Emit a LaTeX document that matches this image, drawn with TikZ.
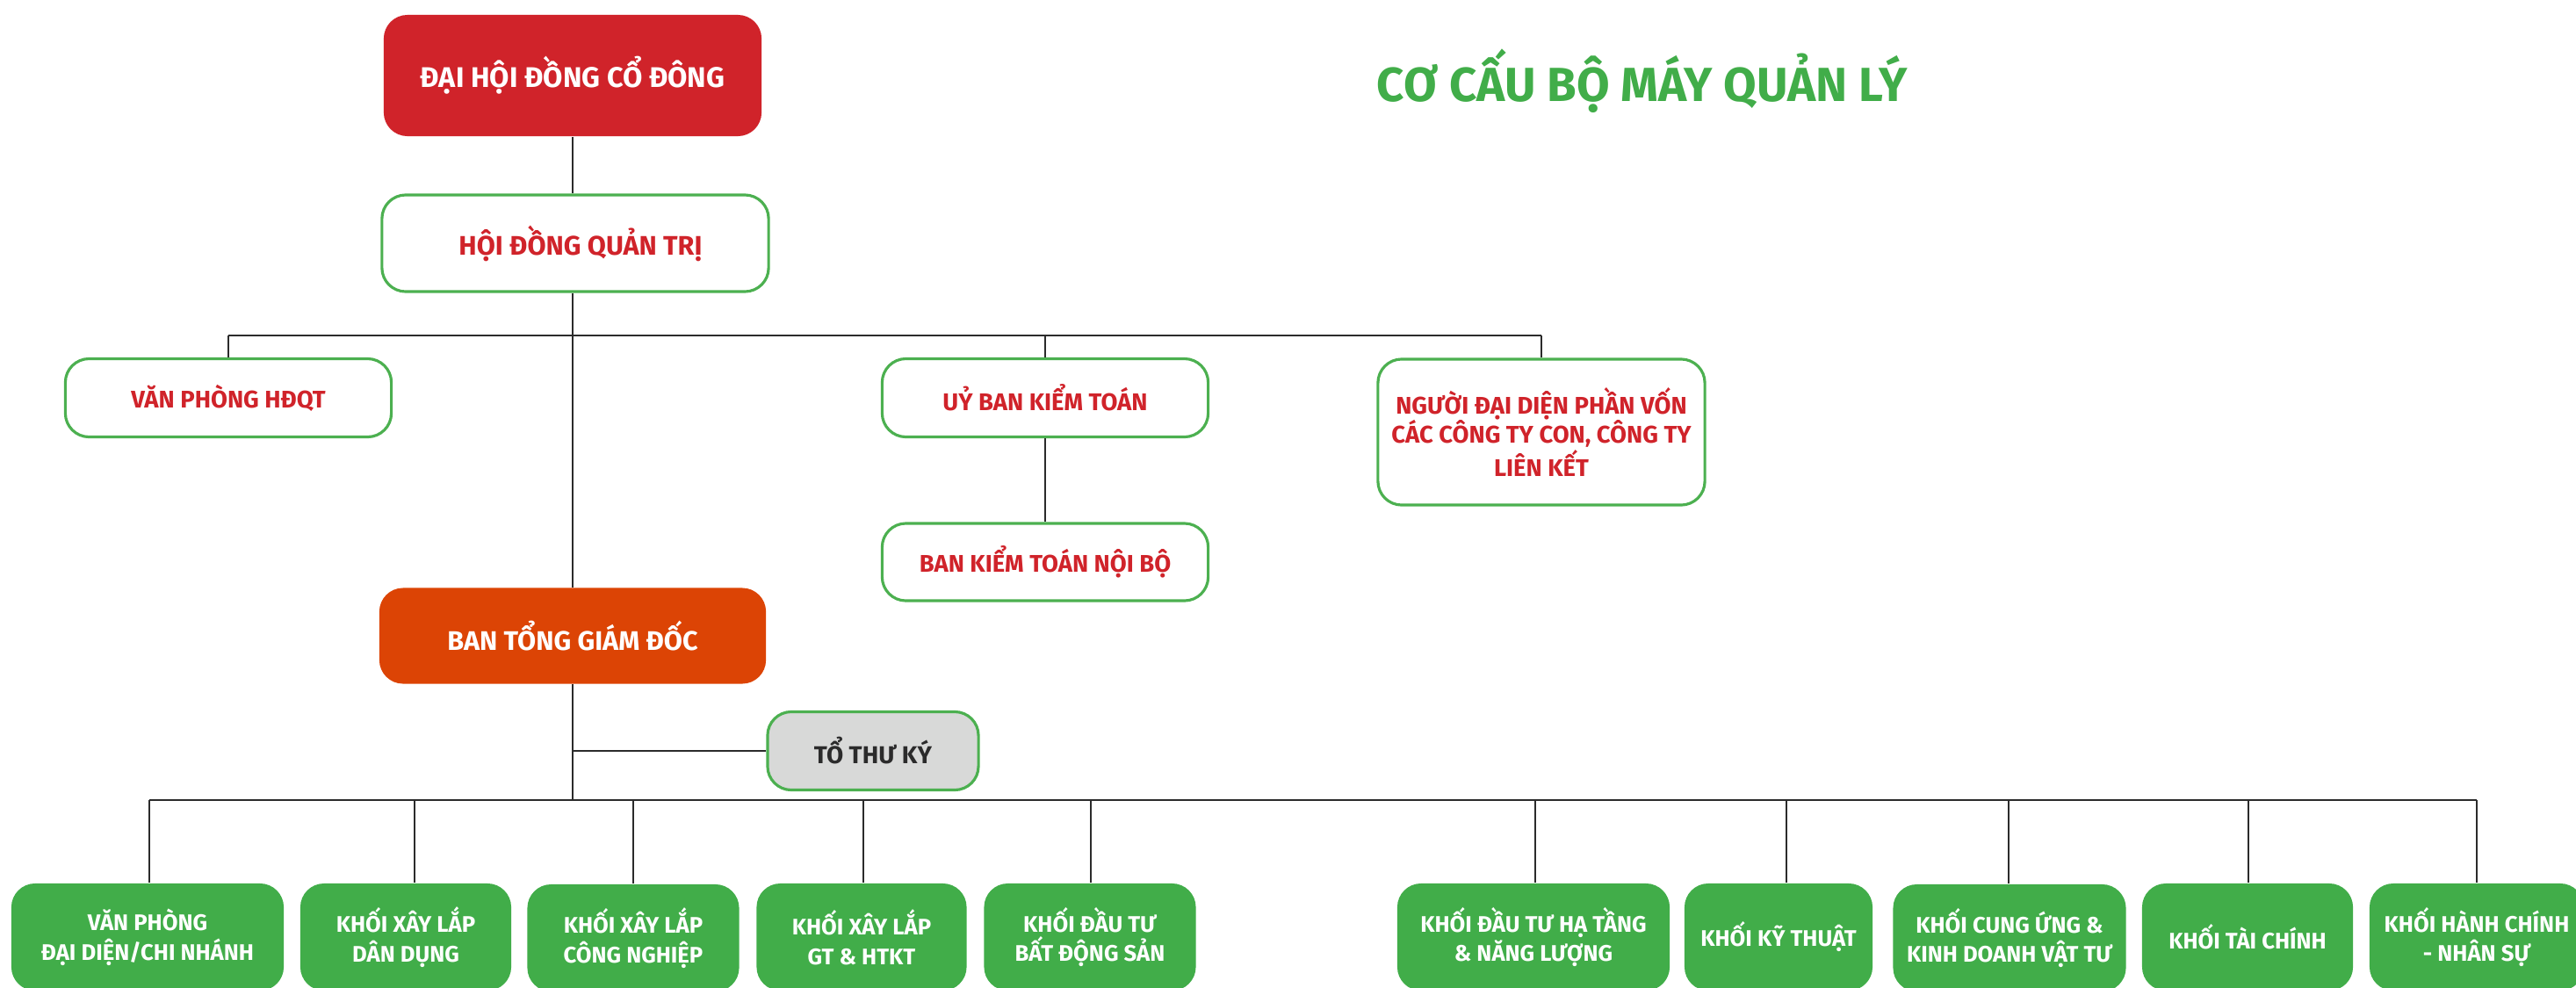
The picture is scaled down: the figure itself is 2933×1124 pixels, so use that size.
\documentclass[tikz,border=0pt]{standalone}
\usepackage{fontspec}
\setmainfont{Fira Sans}
\definecolor{hdred}{HTML}{D0232A}
\definecolor{hdorange}{HTML}{DC4405}
\definecolor{hdgreen}{HTML}{41AD49}
\definecolor{hdline}{HTML}{4CB050}
\definecolor{hdgrey}{HTML}{D8D9D8}
\definecolor{hddark}{HTML}{2B2B2B}
\begin{document}
\begin{tikzpicture}[x=0.01cm, y=-0.01cm,
		box/.style={rounded corners=0.27cm, inner sep=0pt, align=center, font=\bfseries\fontsize{9.2}{10}\selectfont},
		redbox/.style={box, fill=hdred, text=white},
		orgbox/.style={box, fill=hdorange, text=white, font=\bfseries\fontsize{8.7}{10}\selectfont},
		whitebox/.style={box, draw=hdline, line width=0.9pt, fill=white, text=hdred, font=\bfseries\fontsize{8.7}{10}\selectfont},
		smallbox/.style={whitebox, font=\bfseries\fontsize{7.8}{9.4}\selectfont},
		greybox/.style={box, draw=hdline, line width=0.9pt, fill=hdgrey, text=hddark, font=\bfseries\fontsize{7.9}{10}\selectfont},
		greenbox/.style={box, fill=hdgreen, text=white, minimum height=1.22cm, font=\bfseries\fontsize{7.3}{9.6}\selectfont},
		link/.style={draw=hddark, line width=0.55pt},
		bus/.style={draw=hddark, line width=0.8pt}]
	\useasboundingbox (0,0) rectangle (2933,1124);
	
	% title
	\node (title) at (1870,92) {\bfseries\fontsize{15.5}{18}\selectfont\color{hdgreen}CƠ CẤU BỘ MÁY QUẢN LÝ};
	
	% top of the chart
	\node [redbox, minimum width=4.3cm, minimum height=1.38cm] (dhdcd) at (652,86) {ĐẠI HỘI ĐỒNG CỔ ĐÔNG};
	\node [whitebox, minimum width=4.4cm, minimum height=1.1cm] (hdqt) at (655,277) {\hspace{0.12cm}HỘI ĐỒNG QUẢN TRỊ};
	\node [smallbox, minimum width=3.71cm, minimum height=0.89cm] (vphdqt) at (260,453) {VĂN PHÒNG HĐQT};
	\node [smallbox, minimum width=3.71cm, minimum height=0.89cm] (ubkt) at (1190,453) {UỶ BAN KIỂM TOÁN};
	\node [smallbox, minimum width=3.72cm, minimum height=1.66cm] (ndd) at (1755,492) {NGƯỜI ĐẠI DIỆN PHẦN VỐN\\CÁC CÔNG TY CON, CÔNG TY\\LIÊN KẾT};
	\node [smallbox, minimum width=3.71cm, minimum height=0.88cm] (bktnb) at (1190,640) {BAN KIỂM TOÁN NỘI BỘ};
	\node [orgbox, minimum width=4.4cm, minimum height=1.09cm] (btgd) at (652,724) {BAN TỔNG GIÁM ĐỐC};
	\node [greybox, minimum width=2.4cm, minimum height=0.89cm] (ttk) at (994,855) {TỔ THƯ KÝ};
	
	% bottom row
	\node [greenbox, minimum width=3.1cm] (b1) at (168,1067) {VĂN PHÒNG\\ĐẠI DIỆN/CHI NHÁNH};
	\node [greenbox, minimum width=2.4cm] (b2) at (462,1067) {KHỐI XÂY LẮP\\DÂN DỤNG};
	\node [greenbox, minimum width=2.41cm] (b3) at (721,1068) {KHỐI XÂY LẮP\\CÔNG NGHIỆP};
	\node [greenbox, minimum width=2.39cm] (b4) at (981,1067) {KHỐI XÂY LẮP\\GT \& HTKT};
	\node [greenbox, minimum width=2.41cm] (b5) at (1241,1067) {KHỐI ĐẦU TƯ\\BẤT ĐỘNG SẢN};
	\node [greenbox, minimum width=3.1cm] (b6) at (1746,1067) {KHỐI ĐẦU TƯ HẠ TẦNG\\\& NĂNG LƯỢNG};
	\node [greenbox, minimum width=2.14cm] (b7) at (2025,1067) {KHỐI KỸ THUẬT};
	\node [greenbox, minimum width=2.65cm] (b8) at (2288,1068) {KHỐI CUNG ỨNG \&\\KINH DOANH VẬT TƯ};
	\node [greenbox, minimum width=2.4cm] (b9) at (2559,1067) {KHỐI TÀI CHÍNH};
	\node [greenbox, minimum width=2.44cm] (b10) at (2820,1067) {KHỐI HÀNH CHÍNH\\- NHÂN SỰ};
	
	% connectors
	\coordinate (topbus) at (652,382);
	\coordinate (lowbus) at (652,911);
	\draw [link] (dhdcd.south) -- (dhdcd.south |- hdqt.north);
	\draw [link] (dhdcd.south |- hdqt.south) -- (btgd.north);
	\draw [link] (btgd.south) -- (lowbus);
	\draw [bus] (vphdqt.north |- topbus) -- (ndd.north |- topbus);
	\draw [link] (vphdqt.north |- topbus) -- (vphdqt.north);
	\draw [link] (ubkt.north |- topbus) -- (ubkt.north);
	\draw [link] (ndd.north |- topbus) -- (ndd.north);
	\draw [link] (ubkt) -- (bktnb);
	\draw [bus] (btgd.south |- ttk.west) -- (ttk.west);
	\draw [bus] ([xshift=0.02cm]b1.north |- lowbus) -- (b10.north |- lowbus);
	\foreach \b/\dx in {b1/2,b2/10,b3/0,b4/2,b5/1,b6/2,b7/9,b8/-1,b9/1,b10/0}
		\draw [link] ([xshift=\dx*0.01cm]\b.north |- lowbus) -- ([xshift=\dx*0.01cm]\b.north);
\end{tikzpicture}
\end{document}
